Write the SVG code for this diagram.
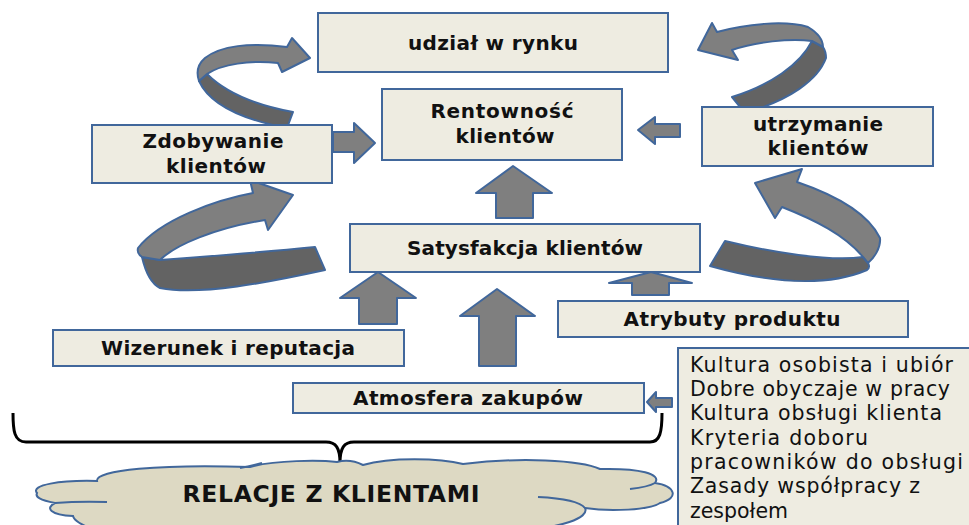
<svg xmlns="http://www.w3.org/2000/svg" width="969" height="525" viewBox="0 0 969 525">
<style>
.box{fill:#EEECE1;stroke:#41679B;stroke-width:2}
.arr{fill:#7F7F7F;stroke:#41679B;stroke-width:2;stroke-linejoin:round}
.dark{fill:#636363;stroke:#41679B;stroke-width:2;stroke-linejoin:round}
.lbl{font-family:"DejaVu Sans","Liberation Sans",sans-serif;font-weight:bold;font-size:20px;fill:#111;text-anchor:middle}
.big{font-size:23.5px}
.lst{font-family:"DejaVu Sans","Liberation Sans",sans-serif;font-size:20.5px;fill:#111}
.brace{fill:none;stroke:#000;stroke-width:3;stroke-linejoin:round}
.cloud{fill:#DDD9C3;stroke:#41679B;stroke-width:2}
.cl{fill:none;stroke:#41679B;stroke-width:2}
</style>
<rect width="969" height="525" fill="#fff"/>

<g id="connectors">
  <g id="curve-tl">
    <path class="dark" d="M207,74 C225,92 255,105 293,112 L287,128 C245,120 210,105 199,81 Z"/>
    <path class="arr" d="M205,58 C220,46 250,42 287,47 L292,38 L310,58 L282,72 L278,63 C250,60 222,64 207,74 L199,81 C196,72 198,64 205,58 Z"/>
  </g>
  <g id="curve-tr">
    <path class="dark" d="M812,41 C800,65 770,85 732,97 L745,113 C790,100 818,80 826,58 C826,54 825,50 823,47 Z"/>
    <path class="arr" d="M717,32 C745,24 785,20 808,27 C818,33 823,40 823,47 L812,41 C790,38 755,42 732,50 L738,60 L698,50 L712,23 Z"/>
  </g>
  <g id="curve-bl">
    <path class="dark" d="M160,260 C200,257 265,252 315,247 L325,270 C270,282 200,296 160,288 C150,283 145,270 142,257 Z"/>
    <path class="arr" d="M253,193 C215,200 160,220 138,248 C137,252 139,255 142,257 L160,260 C175,245 215,228 265,220 L268,230 L293,195 L250,180 Z"/>
  </g>
  <g id="curve-br">
    <path class="dark" d="M863,257 C830,262 770,252 725,241 L710,266 C760,280 820,290 867,270 C870,268 869,265 868,263 Z"/>
    <path class="arr" d="M797,182 C835,195 868,213 880,238 C881,248 874,258 868,263 L863,257 C845,235 815,220 782,207 L775,218 L755,183 L802,169 Z"/>
  </g>
  <polygon class="arr" points="333,132 354,132 354,123 375,143 354,163 354,152 333,152"/>
  <polygon class="arr" points="680,124 655,124 655,117 638,130 655,144 655,137 680,137"/>
  <polygon class="arr" points="496,218 496,193 476,193 513,166 552,193 533,193 533,218"/>
  <polygon class="arr" points="359,324 359,298 340,298 378,272 416,298 397,298 397,324"/>
  <polygon class="arr" points="479,366 479,316 460,316 497,289 535,316 516,316 516,366"/>
  <polygon class="arr" points="632,295 632,283 609,283 651,272 692,283 669,283 669,295"/>
  <polygon class="arr" points="672,398 656,398 656,392 647,402 656,412 656,407 672,407"/>
  <path class="brace" d="M13,413 C13,430 14,442 26,442 L326,442 C336,442 340,448 340,463 C340,448 344,442 354,442 L650,442 C660,442 662,432 662,413"/>
</g>

<g id="n-udzial">
  <rect class="box" x="318" y="13" width="350" height="59"/>
  <text class="lbl" x="493" y="50" textLength="170">udział w rynku</text>
</g>
<g id="n-rentownosc">
  <rect class="box" x="382" y="89" width="240" height="71"/>
  <text class="lbl" x="502" y="118" textLength="143">Rentowność</text>
  <text class="lbl" x="505" y="143" textLength="99">klientów</text>
</g>
<g id="n-zdobywanie">
  <rect class="box" x="92" y="125" width="240" height="58"/>
  <text class="lbl" x="213" y="148" textLength="141">Zdobywanie</text>
  <text class="lbl" x="216" y="173" textLength="100">klientów</text>
</g>
<g id="n-utrzymanie">
  <rect class="box" x="702" y="107" width="231" height="59"/>
  <text class="lbl" x="818" y="131" textLength="130">utrzymanie</text>
  <text class="lbl" x="818" y="155" textLength="101">klientów</text>
</g>
<g id="n-satysfakcja">
  <rect class="box" x="350" y="224" width="350" height="48"/>
  <text class="lbl" x="525" y="255" textLength="236">Satysfakcja klientów</text>
</g>
<g id="n-wizerunek">
  <rect class="box" x="53" y="330" width="351" height="36"/>
  <text class="lbl" x="228" y="355" textLength="254">Wizerunek i reputacja</text>
</g>
<g id="n-atrybuty">
  <rect class="box" x="558" y="301" width="350" height="36"/>
  <text class="lbl" x="732" y="326" textLength="217">Atrybuty produktu</text>
</g>
<g id="n-atmosfera">
  <rect class="box" x="293" y="383" width="351" height="30"/>
  <text class="lbl" x="468" y="405" textLength="230">Atmosfera zakupów</text>
</g>
<g id="n-lista">
  <rect class="box" x="678" y="348" width="300" height="190"/>
  <text class="lst" x="690" y="372" textLength="263">Kultura osobista i ubiór</text>
  <text class="lst" x="690" y="396" textLength="260">Dobre obyczaje w pracy</text>
  <text class="lst" x="690" y="420" textLength="252">Kultura obsługi klienta</text>
  <text class="lst" x="690" y="445" textLength="178">Kryteria doboru</text>
  <text class="lst" x="690" y="469" textLength="273">pracowników do obsługi</text>
  <text class="lst" x="690" y="493" textLength="230">Zasady współpracy z</text>
  <text class="lst" x="690" y="518">zespołem</text>
</g>
<g id="n-relacje">
  <path class="cloud" d="M37,493 C30,485 60,480 97,481 C95,470 160,464 250,467 C275,460 320,460 337,462 C345,460 355,461 363,465 C390,457 440,458 463,464 C520,457 580,460 600,469 C640,468 662,474 655,483 C675,486 680,498 660,503 C650,510 610,512 585,508 C590,518 560,528 520,530 L520,545 L120,545 C100,530 75,525 73,516 C50,515 45,508 55,503 C40,500 35,497 37,493 Z"/>
  <path class="cl" d="M55,503 Q80,501 107,502"/>
  <path class="cl" d="M538,497 Q578,499 585,508"/>
  <path class="cl" d="M630,489 Q648,487 655,483"/>
  <path class="cl" d="M240,468 Q250,466 262,463"/>
  <text class="lbl big" x="331" y="502" textLength="297">RELACJE Z KLIENTAMI</text>
</g>
</svg>
